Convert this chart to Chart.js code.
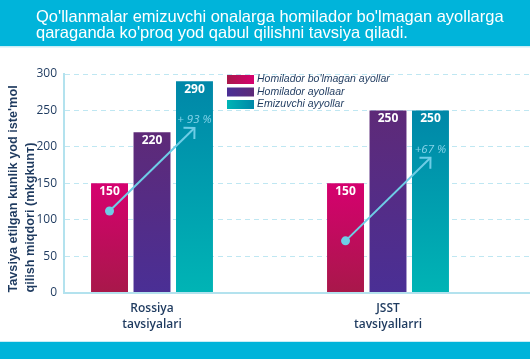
<!DOCTYPE html>
<html>
<head>
<meta charset="utf-8">
<script src="https://cdn.jsdelivr.net/npm/chart.js@4/dist/chart.umd.min.js"></script>
<style>
  html, body { margin: 0; padding: 0; background: #ffffff; }
  #wrap { position: relative; width: 530px; height: 359px; }
</style>
</head>
<body>
<div id="wrap"><canvas id="c" width="530" height="359"></canvas></div>
<script>
// ---- data ----
const TITLE_LINES = ["Qo'llanmalar emizuvchi onalarga homilador bo'lmagan ayollarga", "qaraganda ko'proq yod qabul qilishni tavsiya qiladi."];
const CATEGORIES = [['Rossiya', 'tavsiyalari'], ['JSST', 'tavsiyallarri']];
const SERIES_NAMES = ["Homilador bo'lmagan ayollar", 'Homilador ayollaar', 'Emizuvchi ayyollar'];
const NON_PREGNANT = [150, 150];
const PREGNANT = [220, 250];
const LACTATING = [290, 250];
const Y_TITLE = ["Tavsiya etilgan kunlik yod iste'mol", 'qilish miqdori (mkgkunт)'];
const GROWTH_LABELS = ['+ 93 %', '+67 %'];
const ARROW_FROM = [112, 71];
const ARROW_TO = [226, 185];

// ---- styles ----
const NAVY = '#1e3a5f';
const CYAN = '#00b4da';
const ARROW = '#6ecde6';
const GRAD = [
  ['#d6006f', '#a8184a'],
  ['#5e2a78', '#4a2f95'],
  ['#0087a8', '#00b4b5']
];

function barFill(i) {
  return (context) => {
    const chart = context.chart;
    const sc = chart.scales.y;
    if (!chart.chartArea || !sc || !context.parsed) return GRAD[i][0];
    const y0 = sc.getPixelForValue(context.parsed.y);
    const y1 = sc.getPixelForValue(0);
    const g = chart.ctx.createLinearGradient(0, y0, 0, y1);
    g.addColorStop(0, GRAD[i][0]);
    g.addColorStop(1, GRAD[i][1]);
    return g;
  };
}

const SERIES = [NON_PREGNANT, PREGNANT, LACTATING];
const datasets = SERIES.map((vals, i) => ({
  label: SERIES_NAMES[i],
  data: vals.map((v, k) => ({ x: k, y: v })),
  backgroundColor: barFill(i),
  borderWidth: 0,
  categoryPercentage: 0.54,
  barPercentage: 0.87
}));

const framePlugin = {
  id: 'frame',
  beforeDraw(chart) {
    const c = chart.ctx;
    c.save();
    c.fillStyle = CYAN;
    c.fillRect(0, 0, chart.width, 46);
    c.fillStyle = '#c9edf6';
    c.fillRect(0, 46, chart.width, 1.5);
    c.fillStyle = '#c9edf6';
    c.fillRect(0, 341, chart.width, 1.5);
    c.fillStyle = CYAN;
    c.fillRect(0, 342, chart.width, chart.height - 342);
    c.fillStyle = '#ffffff';
    c.font = '16.5px "Liberation Sans", Arial, sans-serif';
    c.textBaseline = 'middle';
    c.textAlign = 'left';
    TITLE_LINES.forEach((t, i) => c.fillText(t, 36, 17 + i * 16));
    c.restore();
  },
  afterDatasetsDraw(chart) {
    const c = chart.ctx;
    const ys = chart.scales.y;
    // value labels
    c.save();
    c.fillStyle = '#ffffff';
    c.font = 'bold 12px "Open Sans", sans-serif';
    c.textAlign = 'center';
    c.textBaseline = 'middle';
    chart.data.datasets.forEach((ds, di) => {
      chart.getDatasetMeta(di).data.forEach((el, k) => {
        c.fillText(String(ds.data[k].y), el.x, el.y + 8);
      });
    });
    // growth arrows
    const m0 = chart.getDatasetMeta(0).data;
    const m2 = chart.getDatasetMeta(2).data;
    CATEGORIES.forEach((_, k) => {
      const x0 = m0[k].x, y0 = ys.getPixelForValue(ARROW_FROM[k]);
      const x1 = m2[k].x, y1 = ys.getPixelForValue(ARROW_TO[k]);
      c.strokeStyle = ARROW;
      c.fillStyle = ARROW;
      c.lineWidth = 2;
      c.beginPath();
      c.moveTo(x0, y0);
      c.lineTo(x1, y1);
      c.stroke();
      c.beginPath();
      c.arc(x0, y0, 4.5, 0, Math.PI * 2);
      c.fill();
      const ang = Math.atan2(y1 - y0, x1 - x0);
      const L = 11;
      c.beginPath();
      c.moveTo(x1 + L * Math.cos(ang + Math.PI - Math.PI / 4), y1 + L * Math.sin(ang + Math.PI - Math.PI / 4));
      c.lineTo(x1, y1);
      c.lineTo(x1 + L * Math.cos(ang + Math.PI + Math.PI / 4), y1 + L * Math.sin(ang + Math.PI + Math.PI / 4));
      c.stroke();
      c.fillStyle = '#86d4ea';
      c.font = 'italic 11.5px "Open Sans", sans-serif';
      c.fillText(GROWTH_LABELS[k], x1, y1 - 8);
    });
    // legend
    const lx = chart.chartArea.left + 163;
    let ly = 75;
    chart.data.datasets.forEach((ds, i) => {
      const g = c.createLinearGradient(lx, 0, lx + 27, 0);
      g.addColorStop(0, GRAD[i][1]);
      g.addColorStop(1, GRAD[i][0]);
      c.fillStyle = g;
      c.fillRect(lx, ly, 27, 9);
      c.fillStyle = NAVY;
      c.font = 'italic 10.5px "Liberation Sans", Arial, sans-serif';
      c.textAlign = 'left';
      c.fillText(ds.label, lx + 30, ly + 4.5);
      ly += 12.5;
    });
    c.restore();
  }
};

new Chart(document.getElementById('c'), {
  type: 'bar',
  data: { datasets },
  plugins: [framePlugin],
  options: {
    responsive: false,
    animation: false,
    layout: { padding: { top: 74, bottom: 18, left: 0, right: 0 } },
    plugins: { legend: { display: false }, tooltip: { enabled: false }, title: { display: false } },
    scales: {
      x: {
        type: 'linear',
        offset: false,
        min: -0.3729,
        max: 1.6017,
        afterBuildTicks: (scale) => { scale.ticks = CATEGORIES.map((_, k) => ({ value: k })); },
        ticks: {
          callback: (v) => CATEGORIES[v] || '',
          color: NAVY,
          font: { family: '"Open Sans", sans-serif', size: 12, weight: '600', lineHeight: 1.35 },
          padding: 8,
          maxRotation: 0,
          autoSkip: false
        },
        grid: { display: false, drawTicks: false, offset: false },
        border: { color: '#b3e2ee', width: 2 }
      },
      y: {
        min: 0,
        max: 300,
        afterFit: (scale) => { scale.width = 64; },
        ticks: {
          stepSize: 50,
          color: NAVY,
          font: { family: '"Open Sans", sans-serif', size: 12 },
          padding: 7
        },
        grid: { color: '#bfe7f2', lineWidth: 1, drawTicks: false },
        border: { color: '#b3e2ee', width: 2, dash: [5, 4] },
        title: {
          display: true,
          text: Y_TITLE,
          align: 'start',
          color: NAVY,
          font: { family: '"Liberation Sans", Arial, sans-serif', size: 12.7, weight: 'bold', lineHeight: 1.33 },
          padding: { top: 5, bottom: 0 }
        }
      }
    }
  }
});
</script>
</body>
</html>
